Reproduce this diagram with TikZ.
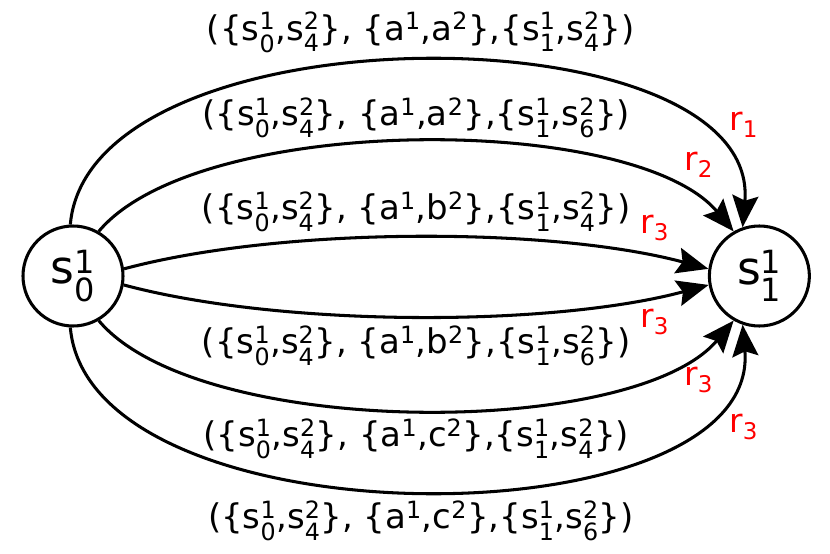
\documentclass[tikz,border=0pt]{standalone}
\usepackage{amsmath}
\usepackage{fontspec}
\setmainfont{DejaVu Sans}
\usetikzlibrary{positioning,arrows.meta}

\newcommand{\up}[2]{#1$^{\text{#2}}$}
\newcommand{\st}[3]{#1$^{\text{#2}}_{\text{#3}}$}
\newcommand{\trlab}[3]{(\{\st{s}{1}{0},\st{s}{2}{4}\}, \{\up{a}{1},\up{#1}{2}\},\{\st{s}{1}{1},\st{s}{2}{#2}\})}

\tikzset{
	state/.style={circle,draw=black,line width=2.6pt,minimum size=3cm,inner sep=0pt,font=\fontsize{39}{46}\selectfont},
	trans/.style={line width=2.6pt,-{Stealth[length=0.95cm,width=0.78cm,inset=0.15cm]}},
	tlab/.style={font=\fontsize{29}{34}\selectfont},
	rlab/.style={text=red,font=\fontsize{28}{33}\selectfont}
}

\begin{document}
\begin{tikzpicture}
		\useasboundingbox (-2.19,-8.34) rectangle (22.71,8.28);
		\node[state] (s0) at (0,0) {\st{s}{1}{0}};
		\node[state,right=17.5cm of s0] (s1) {\st{s}{1}{1}};
		
		% upper transitions
		\draw[trans] (s0.93) to[out=85,in=85,distance=6.6cm] node[midway,above=3pt,tlab] (t1) {\trlab{a}{4}{}} (s1.109);
		\draw[trans] (s0.60) to[out=50,in=130,distance=4.65cm] node[midway,above=-1pt,tlab] (t2) {\trlab{a}{6}{}} (s1.120);
		\draw[trans] (s0.8) to[out=15,in=165,distance=4.9cm] node[midway,above=0pt,tlab] (t3) {\trlab{b}{4}{}} (s1.172);
		% lower transitions
		\draw[trans] (s0.350) to[out=-15,in=-165,distance=4.9cm] node[midway,below=3pt,tlab] (t4) {\trlab{b}{6}{}} (s1.190);
		\draw[trans] (s0.300) to[out=-50,in=-130,distance=4.65cm] node[midway,below=3pt,tlab] (t5) {\trlab{c}{4}{}} (s1.240);
		\draw[trans] (s0.267) to[out=-85,in=-85,distance=6.6cm] node[midway,below=4pt,tlab] (t6) {\trlab{c}{6}{}} (s1.251);
		
		\node[rlab,shift={(-0.47,4.53)}] (r1) at (s1.center) {r$_{\text{1}}$};
		\node[rlab,shift={(-1.82,3.33)}] (r2) at (s1.center) {r$_{\text{2}}$};
		\node[rlab,shift={(-3.14,1.44)}] (r3a) at (s1.center) {r$_{\text{3}}$};
		\node[rlab,shift={(-3.14,-1.38)}] (r3b) at (s1.center) {r$_{\text{3}}$};
		\node[rlab,shift={(-1.82,-3.12)}] (r3c) at (s1.center) {r$_{\text{3}}$};
		\node[rlab,shift={(-0.47,-4.53)}] (r3d) at (s1.center) {r$_{\text{3}}$};
\end{tikzpicture}
\end{document}
